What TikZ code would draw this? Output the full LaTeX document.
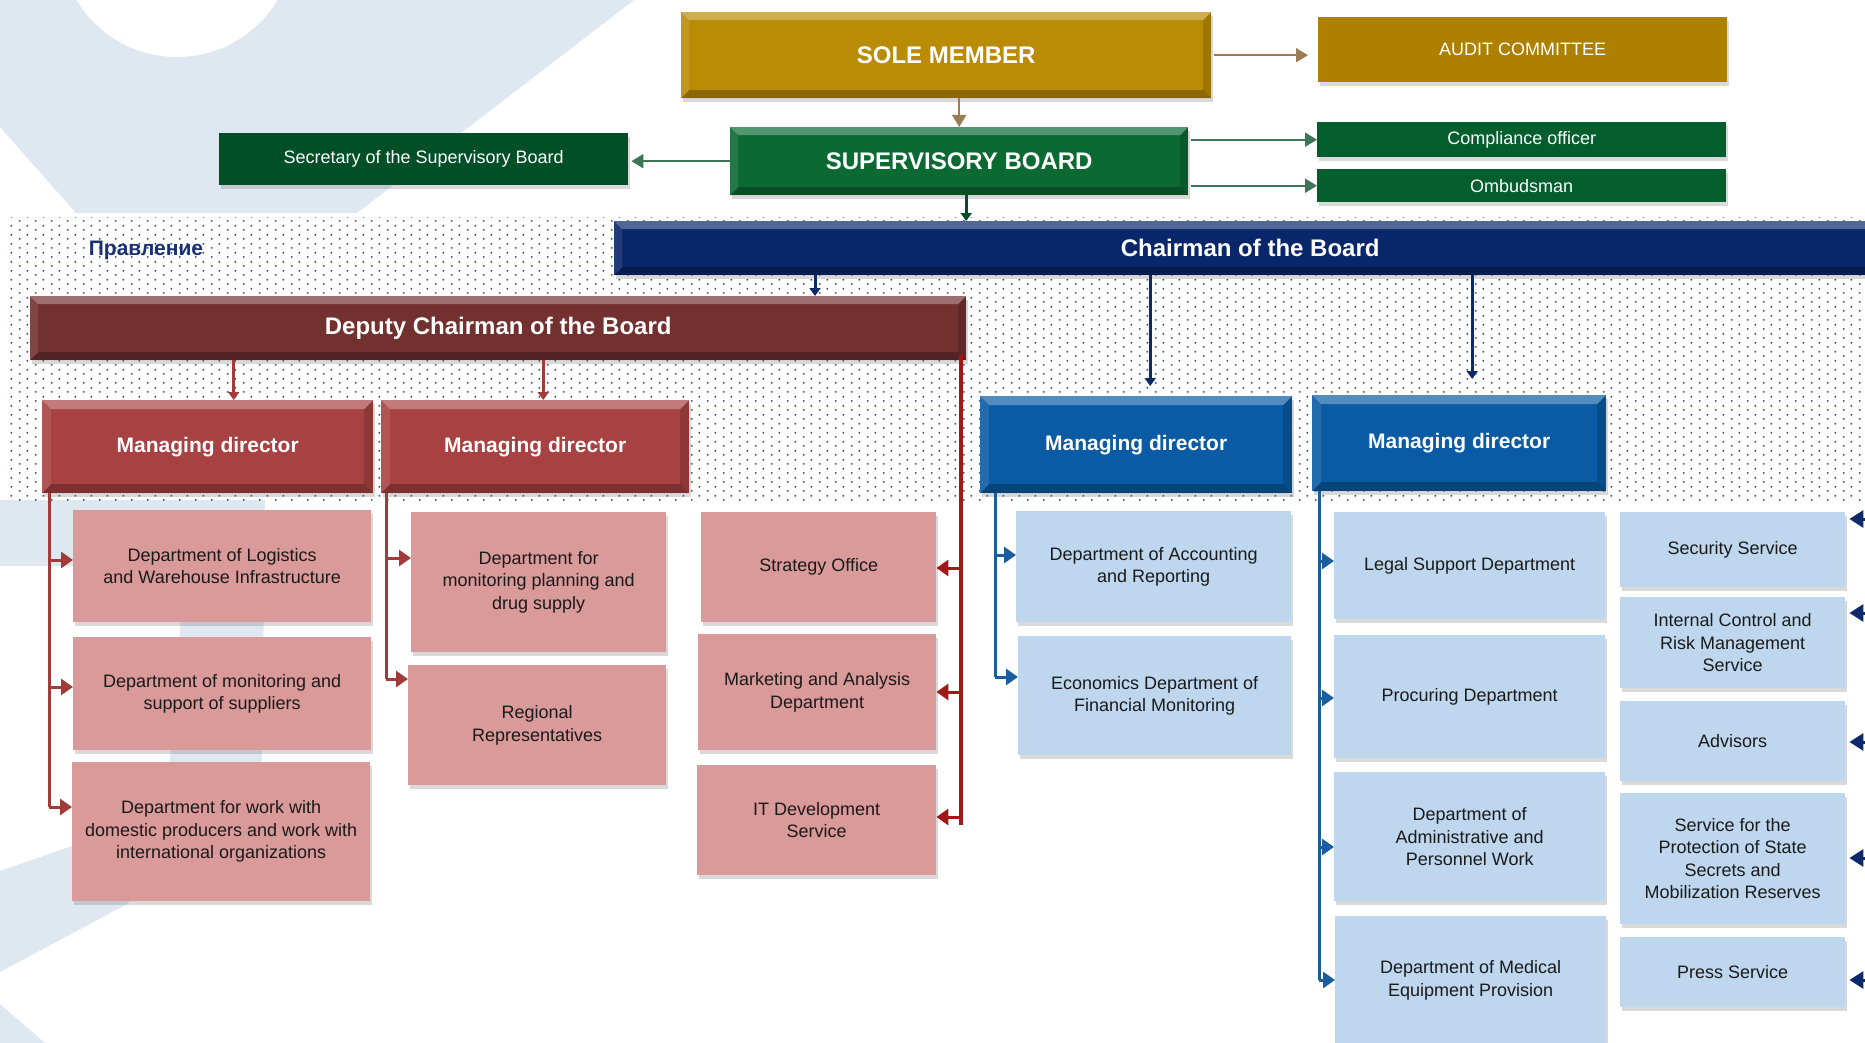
\documentclass[tikz,border=0pt]{standalone}
\usepackage{fontspec}
\setmainfont{Liberation Sans}
\usetikzlibrary{arrows.meta,shadows,calc,patterns.meta}

\definecolor{soleGold}{HTML}{BA8B05}
\definecolor{auditGold}{HTML}{AE8000}
\definecolor{goldLine}{HTML}{9C7C55}
\definecolor{boardGreen}{HTML}{0B6A32}
\definecolor{secGreen}{HTML}{004F27}
\definecolor{officeGreen}{HTML}{035E2E}
\definecolor{greenLine}{HTML}{3D7556}
\definecolor{chairNavy}{HTML}{0A266A}
\definecolor{navyLine}{HTML}{0C2A6A}
\definecolor{deputyRed}{HTML}{72302F}
\definecolor{mdRed}{HTML}{A84141}
\definecolor{deptPink}{HTML}{D99A99}
\definecolor{redLine}{HTML}{A33B3B}
\definecolor{darkRedLine}{HTML}{A01818}
\definecolor{mdBlue}{HTML}{0A5BA3}
\definecolor{deptBlue}{HTML}{BED7EE}
\definecolor{blueLine}{HTML}{1B5E9F}
\definecolor{logoTint}{HTML}{DFE7F1}
\definecolor{dotNavy}{HTML}{2C4E8C}
\definecolor{deptText}{HTML}{1A1A1A}
\definecolor{boardNavy}{HTML}{1C3270}

\tikzdeclarepattern{
  name=boarddots,
  type=uncolored,
  bounding box={(0pt,0pt) and (16pt,8.6pt)},
  tile size={(16pt,8.6pt)},
  code={
    \fill (4pt,2.15pt) circle (1.1pt);
    \fill (12pt,6.45pt) circle (1.1pt);
  }
}

\tikzset{
  bevel/.style={path picture={
    \fill[white,opacity=.30] (path picture bounding box.north west) -- (path picture bounding box.north east)
      -- ([shift={(-#1,-#1)}]path picture bounding box.north east) -- ([shift={(#1,-#1)}]path picture bounding box.north west) -- cycle;
    \fill[black,opacity=.25] (path picture bounding box.south west) -- (path picture bounding box.south east)
      -- ([shift={(-#1,#1)}]path picture bounding box.south east) -- ([shift={(#1,#1)}]path picture bounding box.south west) -- cycle;
    \fill[black,opacity=.15] (path picture bounding box.north east) -- (path picture bounding box.south east)
      -- ([shift={(-#1,#1)}]path picture bounding box.south east) -- ([shift={(-#1,-#1)}]path picture bounding box.north east) -- cycle;
    \fill[white,opacity=.10] (path picture bounding box.north west) -- (path picture bounding box.south west)
      -- ([shift={(#1,#1)}]path picture bounding box.south west) -- ([shift={(#1,-#1)}]path picture bounding box.north west) -- cycle;
  }},
  bevel/.default=8pt,
  orgbox/.style={anchor=north west, inner sep=2pt, align=center, text=white,
    font=\fontsize{18}{22.5}\selectfont,
    drop shadow={shadow xshift=2pt, shadow yshift=-4pt, opacity=.3}},
  headbox/.style={orgbox, bevel, font=\bfseries\fontsize{24}{28}\selectfont},
  mdbox/.style={orgbox, bevel=9pt, font=\bfseries\fontsize{21}{25}\selectfont},
  dept/.style={orgbox, text=deptText},
  busline/.style={line width=3pt},
  busarrow/.style={line width=3pt, -{Triangle[length=12pt,width=16pt]}},
  droparrow/.style={line width=3pt, -{Triangle[length=8pt,width=11pt]}},
  sidearrow/.style={line width=2pt, -{Triangle[length=12pt,width=14pt]}},
}

\begin{document}
\begin{tikzpicture}[x=1pt,y=-1pt]
  \useasboundingbox (0,0) rectangle (1865,1043);
  \clip (0,0) rectangle (1865,1043);

  %% Background logo
  \fill[logoTint] (0,0) -- (634,0) -- (357,213) -- (76,213) -- (0,127) -- cycle;
  \fill[white] (177,-60) circle (117pt);
  \fill[logoTint] (0,500) -- (265,500) -- (262,760) -- (127,904) -- (0,972) -- (0,871)
    -- (72,846) -- (170,760) -- (185,566) -- (0,566) -- cycle;
  \fill[logoTint] (0,1004) -- (45,1043) -- (0,1043) -- cycle;

  %% Board area
  \fill[white] (10,217) rectangle (1865,500);
  \fill[pattern=boarddots, pattern color=dotNavy] (10,217) rectangle (1865,500);
  \node[font=\bfseries\fontsize{21}{24}\selectfont, text=boardNavy] (board) at (146,250) {Правление};

  %% Top level
  \node[headbox, fill=soleGold, minimum width=530pt, minimum height=86pt] (sole) at (681,12) {SOLE MEMBER};
  \node[orgbox, fill=auditGold, minimum width=409pt, minimum height=65pt] (audit) at (1318,17) {AUDIT COMMITTEE};
  \node[headbox, fill=boardGreen, minimum width=458pt, minimum height=68pt] (super) at (730,127) {SUPERVISORY BOARD};
  \node[orgbox, fill=secGreen, minimum width=409pt, minimum height=52pt] (secret) at (219,133) {Secretary of the Supervisory Board};
  \node[orgbox, fill=officeGreen, minimum width=409pt, minimum height=35pt] (compl) at (1317,122) {Compliance officer};
  \node[orgbox, fill=officeGreen, minimum width=409pt, minimum height=33pt] (ombud) at (1317,169) {Ombudsman};

  %% Chairman and deputy
  \node[headbox, fill=chairNavy, minimum width=1272pt, minimum height=54pt] (chair) at (614,221) {Chairman of the Board};
  \node[headbox, fill=deputyRed, minimum width=936pt, minimum height=64pt] (deputy) at (30,296) {Deputy Chairman of the Board};

  %% Managing directors
  \node[mdbox, fill=mdRed, minimum width=331pt, minimum height=93pt] (md1) at (42,400) {Managing director};
  \node[mdbox, fill=mdRed, minimum width=308pt, minimum height=93pt] (md2) at (381,400) {Managing director};
  \node[mdbox, fill=mdBlue, minimum width=312pt, minimum height=97pt] (md3) at (980,396) {Managing director};
  \node[mdbox, fill=mdBlue, minimum width=294pt, minimum height=96pt] (md4) at (1312,395) {Managing director};

  %% Deputy side departments
  \node[dept, fill=deptPink, minimum width=298pt, minimum height=112pt] (logist) at (73,510) {Department of Logistics\\and Warehouse Infrastructure};
  \node[dept, fill=deptPink, minimum width=298pt, minimum height=113pt] (suppl) at (73,637) {Department of monitoring and\\support of suppliers};
  \node[dept, fill=deptPink, minimum width=298pt, minimum height=139pt] (domest) at (72,762) {Department for work with\\domestic producers and work with\\international organizations};
  \node[dept, fill=deptPink, minimum width=255pt, minimum height=140pt] (drug) at (411,512) {Department for\\monitoring planning and\\drug supply};
  \node[dept, fill=deptPink, minimum width=258pt, minimum height=120pt] (region) at (408,665) {Regional\\Representatives};
  \node[dept, fill=deptPink, minimum width=235pt, minimum height=110pt] (strat) at (701,512) {Strategy Office};
  \node[dept, fill=deptPink, minimum width=238pt, minimum height=116pt] (market) at (698,634) {Marketing and Analysis\\Department};
  \node[dept, fill=deptPink, minimum width=239pt, minimum height=110pt] (itdev) at (697,765) {IT Development\\Service};

  %% Chairman side departments
  \node[dept, fill=deptBlue, minimum width=275pt, minimum height=111pt] (account) at (1016,511) {Department of Accounting\\and Reporting};
  \node[dept, fill=deptBlue, minimum width=273pt, minimum height=119pt] (econ) at (1018,636) {Economics Department of\\Financial Monitoring};
  \node[dept, fill=deptBlue, minimum width=271pt, minimum height=107pt] (legal) at (1334,512) {Legal Support Department};
  \node[dept, fill=deptBlue, minimum width=271pt, minimum height=123pt] (procur) at (1334,635) {Procuring Department};
  \node[dept, fill=deptBlue, minimum width=271pt, minimum height=129pt] (admin) at (1334,772) {Department of\\Administrative and\\Personnel Work};
  \node[dept, fill=deptBlue, minimum width=271pt, minimum height=128pt] (medic) at (1335,916) {Department of Medical\\Equipment Provision};
  \node[dept, fill=deptBlue, minimum width=225pt, minimum height=75pt] (secur) at (1620,512) {Security Service};
  \node[dept, fill=deptBlue, minimum width=225pt, minimum height=91pt] (intern) at (1620,597) {Internal Control and\\Risk Management\\Service};
  \node[dept, fill=deptBlue, minimum width=225pt, minimum height=80pt] (advis) at (1620,701) {Advisors};
  \node[dept, fill=deptBlue, minimum width=225pt, minimum height=131pt] (secrets) at (1620,793) {Service for the\\Protection of State\\Secrets and\\Mobilization Reserves};
  \node[dept, fill=deptBlue, minimum width=225pt, minimum height=70pt] (press) at (1620,937) {Press Service};

  %% Top level links
  \draw[sidearrow, goldLine, shorten <=3pt, shorten >=10pt] (sole.east) -- (sole.east -| audit.west);
  \draw[sidearrow, goldLine] (sole.south -| super.north) -- (super.north);
  \draw[sidearrow, greenLine, shorten >=3pt] (super.west) -- (super.west -| secret.east);
  \draw[sidearrow, greenLine, shorten <=3pt] (super.east |- compl.west) -- (compl.west);
  \draw[sidearrow, greenLine, shorten <=3pt] (super.east |- ombud.west) -- (ombud.west);
  \draw[droparrow, secGreen] ($(super.south)+(7,0)$) -- ($(super.south |- chair.north)+(7,0)$);

  %% Chairman links
  \coordinate (chairdrop) at (815,0);
  \draw[droparrow, navyLine] (chair.south -| chairdrop) -- (deputy.north -| chairdrop);
  \draw[droparrow, navyLine, shorten >=10pt] ($(md3.north |- chair.south)+(14,0)$) -- ($(md3.north)+(14,0)$);
  \draw[droparrow, navyLine, shorten >=16pt] ($(md4.north |- chair.south)+(13,0)$) -- ($(md4.north)+(13,0)$);

  %% Deputy links
  \draw[droparrow, redLine] ($(md1.north |- deputy.south)+(26,0)$) -- ($(md1.north)+(26,0)$);
  \draw[droparrow, redLine] ($(md2.north |- deputy.south)+(8,0)$) -- ($(md2.north)+(8,0)$);
  \coordinate (dbus) at (961,355);
  \draw[busline, darkRedLine, line width=4pt] (dbus) -- (dbus |- 0,825);
  \foreach \n/\y in {strat/568,market/692,itdev/817}
    \draw[busarrow, darkRedLine] (dbus |- 0,\y) -- (\n.east |- 0,\y);

  %% Managing director buses
  \coordinate (md1bus) at (49,493);
  \draw[busline, redLine] (md1bus) -- (md1bus |- 0,807);
  \foreach \n/\y in {logist/560,suppl/687,domest/807}
    \draw[busarrow, redLine] (md1bus |- 0,\y) -- (\n.west |- 0,\y);
  \coordinate (md2bus) at (386,493);
  \draw[busline, redLine] (md2bus) -- (md2bus |- 0,679);
  \foreach \n/\y in {drug/558,region/679}
    \draw[busarrow, redLine] (md2bus |- 0,\y) -- (\n.west |- 0,\y);
  \coordinate (md3bus) at (995,493);
  \draw[busline, blueLine] (md3bus) -- (md3bus |- 0,677);
  \foreach \n/\y in {account/555,econ/677}
    \draw[busarrow, blueLine] (md3bus |- 0,\y) -- (\n.west |- 0,\y);
  \coordinate (md4bus) at (1319,491);
  \draw[busline, blueLine] (md4bus) -- (md4bus |- 0,980);
  \foreach \n/\y in {legal/561,procur/698,admin/847,medic/980}
    \draw[busarrow, blueLine] (md4bus |- 0,\y) -- (\n.west |- 0,\y);

  %% Right column, fed from off the page
  \coordinate (rbus) at (1880,500);
  \foreach \n/\y in {secur/519,intern/613,advis/742,secrets/858,press/980}
    \draw[navyLine, line width=3pt, -{Triangle[length=14pt,width=17pt]}, shorten >=4pt] (rbus |- 0,\y) -- (\n.east |- 0,\y);
\end{tikzpicture}
\end{document}
